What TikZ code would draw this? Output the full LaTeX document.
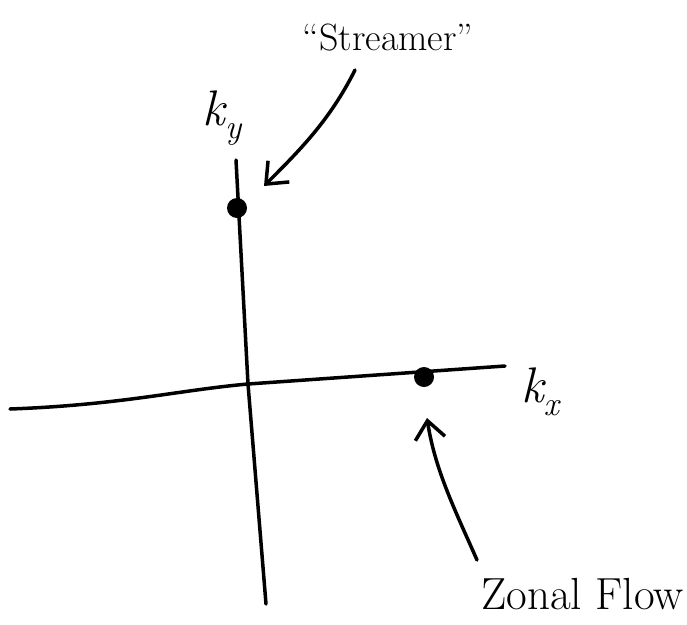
\documentclass[tikz,border=0pt]{standalone}
\usepackage{fontspec}
\usetikzlibrary{arrows.meta}
\tikzset{
  axisline/.style={line width=3.5pt, line cap=round},
  pointer/.style={line width=3.5pt, line cap=round, -{Straight Barb[length=18pt,width=30pt,line width=3.5pt]}},
  dotpt/.style={circle, fill=black, inner sep=0pt, minimum width=20pt, minimum height=17pt},
  lbl/.style={font=\fontsize{38}{42}\selectfont, inner sep=0pt},
  klbl/.style={font=\fontsize{50}{54}\selectfont\itshape, inner sep=0pt},
}
\newcommand{\ksub}[1]{k\raisebox{-0.25em}{\fontsize{34}{36}\selectfont #1}}
\begin{document}
\begin{tikzpicture}[x=1pt,y=-1pt]
\useasboundingbox (0,0) rectangle (687,624);
% vertical axis
\coordinate (vtop) at (236,160);
\coordinate (vbot) at (266,604);
\coordinate (orig) at (248,384);
\draw[axisline] (vtop) -- (orig) -- (vbot);
% horizontal axis
\coordinate (hleft) at (10,409);
\coordinate (hright) at (505,366);
\draw[axisline] (hleft) .. controls (120,405) and (180,390) .. (orig) -- (hright);
% dots
\node[dotpt] (sdot) at (237,208) {};
\node[dotpt] (zdot) at (424,377) {};
% labels
\node[klbl] (ky) at (222,118) {\ksub{y}};
\node[klbl] (kx) at (540,392) {\ksub{x}};
\node[lbl] (stream) at (388,38) {``Streamer''};
\node[lbl, anchor=west, font=\fontsize{45}{48}\selectfont] (zonal) at (481,594) {Zonal Flow};
% pointer ends
\coordinate (stail) at (355,70);
\coordinate (stip) at (264,186);
\coordinate (ztail) at (477,560);
\coordinate (ztip) at (427,418);
% pointers
\draw[pointer] (stail) .. controls (330,120) and (300,150) .. (stip);
\draw[pointer] (ztail) .. controls (455,510) and (435,470) .. (ztip);
\end{tikzpicture}
\end{document}
